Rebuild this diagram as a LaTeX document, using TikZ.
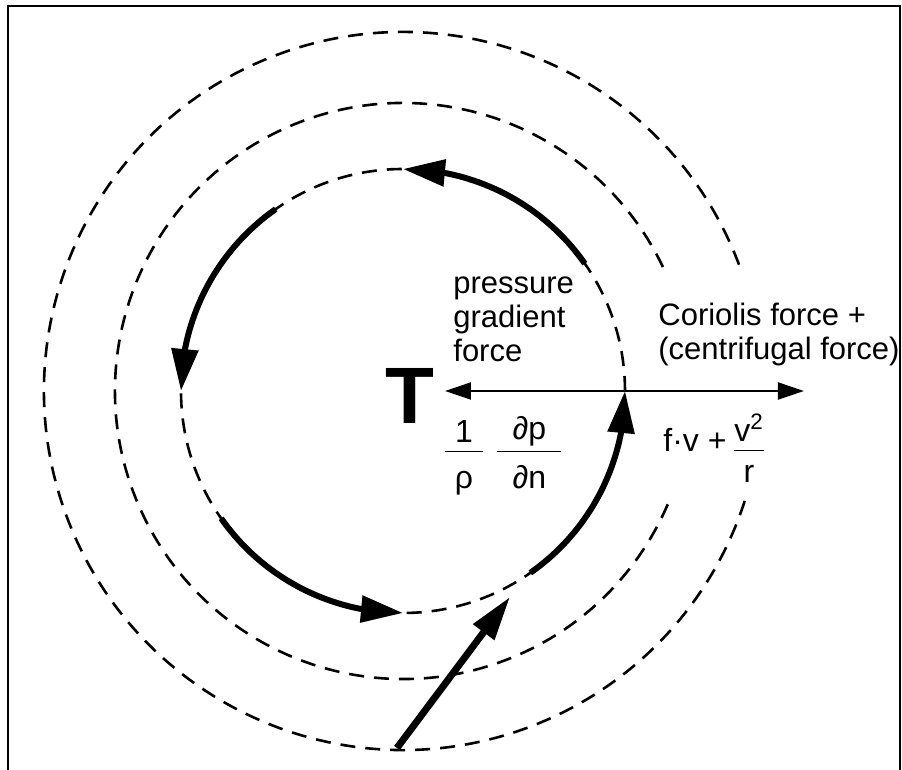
\documentclass[tikz,border=0pt]{standalone}
\usepackage{amsmath}
\usepackage{fontspec}
\setmainfont{Liberation Sans}
\usetikzlibrary{arrows.meta,bending,positioning,calc}
\newcommand{\wfrac}[3]{\dfrac{\makebox[#1]{\raisebox{-3pt}{#2}}}{\raisebox{-2.5pt}{#3}}}

\begin{document}
\begin{tikzpicture}[x=0.5pt,y=0.5pt,
  isobar/.style={line width=1.3pt,dash pattern=on 7.5pt off 5pt},
  flow/.style={line width=3pt,-{Triangle[length=21pt,width=13pt,flex]}},
  wind/.style={line width=3.5pt,-{Triangle[length=22pt,width=12.5pt]}},
  force/.style={line width=1pt,-{Triangle[length=13pt,width=8.5pt]}},
  lbl/.style={font=\fontsize{15.5}{17}\selectfont,inner sep=0pt,align=left},
  term/.style={font=\fontsize{16}{18}\selectfont,inner sep=0pt}]
\useasboundingbox (-403,-379) rectangle (499,391);
% frame
\draw[line width=1pt] (-395,-379) -- (-395,385) -- (497,385) -- (497,-379);
% isobars round the low
\coordinate (O) at (0,0);
\draw[isobar] (O) circle (222);
\draw[isobar] (25.5:288) arc (25.5:338.3:288);
\draw[isobar] (20.6:359) arc (20.6:342.4:359);
% flow along the inner isobar
\foreach \a in {90,180,270,360}
  \draw[flow] (\a-55:222) arc (\a-55:\a:222);
% forces
\node[font=\fontsize{40}{40}\selectfont\bfseries,inner sep=0pt] (low) at (6.5,-5) {T};
\coordinate (E) at (0:222);
\coordinate (pgftip) at (42,0);
\coordinate (cortip) at (401,0);
\draw[force] (E) -- (pgftip);
\draw[force] (E) -- (cortip);
\node[lbl,anchor=base west] (pgflbl) at (50,29) {pressure\\gradient\\force};
\node[lbl,anchor=base west] (corlbl) at (255,31) {Coriolis force +\\(centrifugal force)};
\node[term,anchor=base] (rho) at (61,-69) {$\wfrac{19pt}{1}{ρ}$};
\node[term,anchor=base] (dpdn) at (126.5,-69) {$\wfrac{32pt}{∂p}{∂n}$};
\node[term,anchor=base west] (cor) at (260,-68) {$\raisebox{3.5pt}{f·v +\,}\dfrac{\raisebox{-3pt}{v\textsuperscript{2}}}{\text{r}}$};
% incoming wind
\coordinate (windtail) at (-6,-357);
\coordinate (windtip) at (107,-206);
\draw[wind] (windtail) -- (windtip);
\end{tikzpicture}
\end{document}
